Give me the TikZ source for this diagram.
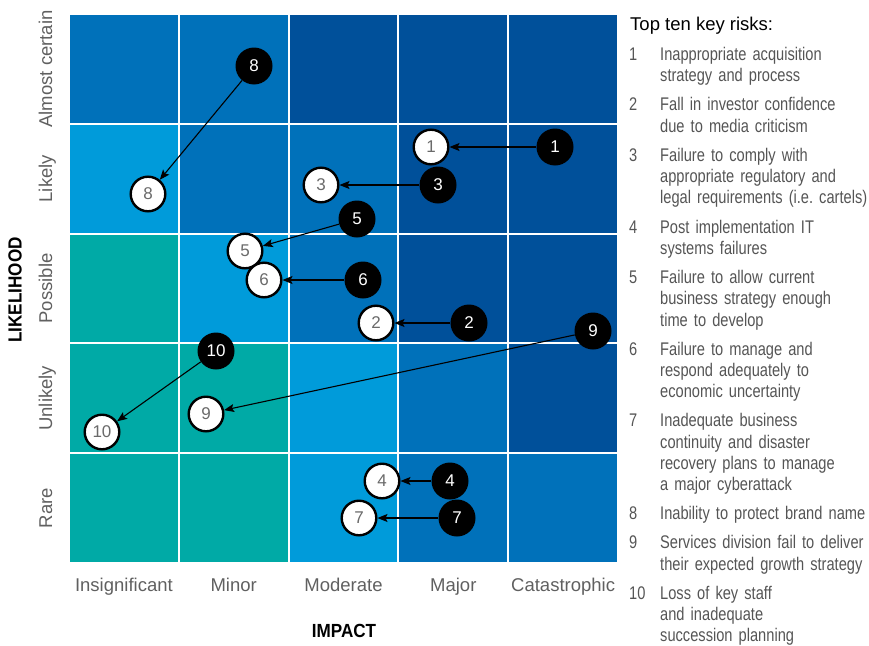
\documentclass[tikz,border=0pt]{standalone}
\usepackage{fontspec}
\setmainfont{Liberation Sans}
\newfontfamily\condfont[FakeStretch=0.8]{Liberation Sans}
\newfontfamily\bcondfont[FakeStretch=0.9]{Liberation Sans}
\usetikzlibrary{arrows.meta}
\definecolor{cteal}{HTML}{00AAA6}
\definecolor{clight}{HTML}{009BDA}
\definecolor{cmid}{HTML}{0071BA}
\definecolor{cdark}{HTML}{00509A}
\definecolor{labgray}{HTML}{606060}
\definecolor{numgray}{HTML}{6A6A6A}
\definecolor{listgray}{HTML}{555555}
\frenchspacing
\begin{document}
\begin{tikzpicture}[x=1pt,y=-1pt,
  wc/.style={circle,draw=black,fill=white,line width=2.4pt,minimum size=34.6pt,inner sep=0pt,font=\fontsize{17}{17}\selectfont,text=numgray},
  bc/.style={circle,fill=black,minimum size=37pt,inner sep=0pt,font=\fontsize{17}{17}\selectfont,text=white},
  arr/.style={line width=1.1pt,-{Stealth[length=10pt,width=8pt,inset=2pt]}},
  axlab/.style={font=\fontsize{18.5}{20}\selectfont,text=labgray,inner sep=0pt,anchor=base},
  ylab/.style={font=\fontsize{18.5}{20}\selectfont,text=labgray,inner sep=0pt,anchor=base,rotate=90},
  axtitle/.style={font=\bcondfont\bfseries\fontsize{19}{20}\selectfont,inner sep=0pt},
  listtxt/.style={font=\condfont\fontsize{18.3}{21.3}\selectfont,text=listgray,inner sep=0pt,anchor=base west,text width=240pt,align=left},
  listnum/.style={font=\condfont\fontsize{18.3}{21.3}\selectfont,text=listgray,inner sep=0pt,anchor=base west}]
\useasboundingbox (0,0) rectangle (869,645);
% grid cells
\foreach \c/\r/\col in {0/0/cmid,1/0/cmid,2/0/cdark,3/0/cdark,4/0/cdark,
  0/1/clight,1/1/cmid,2/1/cmid,3/1/cdark,4/1/cdark,
  0/2/cteal,1/2/clight,2/2/cmid,3/2/cdark,4/2/cdark,
  0/3/cteal,1/3/cteal,2/3/clight,3/3/cmid,4/3/cdark,
  0/4/cteal,1/4/cteal,2/4/clight,3/4/cmid,4/4/cmid}{
  \fill[\col] ({69+109.8*\c+1},{14+109.8*\r+1}) rectangle ({69+109.8*(\c+1)-1},{14+109.8*(\r+1)-1});
}
% axis labels
\node[axlab] (xl1) at (123.9,591) {Insignificant};
\node[axlab] (xl2) at (233.7,591) {Minor};
\node[axlab] (xl3) at (343.5,591) {Moderate};
\node[axlab] (xl4) at (453.3,591) {Major};
\node[axlab] (xl5) at (563.1,591) {Catastrophic};
\node[ylab] (yl1) at (52,68.9) {Almost certain};
\node[ylab] (yl2) at (52,178.7) {Likely};
\node[ylab] (yl3) at (52,288.5) {Possible};
\node[ylab] (yl4) at (52,398.3) {Unlikely};
\node[ylab] (yl5) at (52,508.1) {Rare};
\node[axtitle] (ximp) at (344,631) {IMPACT};
\node[axtitle,rotate=90] (ylik) at (15,290) {LIKELIHOOD};
% circles
\node[wc] (w1) at (431,147) {1};
\node[wc] (w2) at (376,323) {2};
\node[wc] (w3) at (321,185) {3};
\node[wc] (w4) at (382,481) {4};
\node[wc] (w5) at (245,251) {5};
\node[wc] (w6) at (264,280) {6};
\node[wc] (w7) at (359,518) {7};
\node[wc] (w8) at (148,194) {8};
\node[wc] (w9) at (206,414) {9};
\node[wc] (w10) at (102,432) {10};
\node[bc] (b1) at (555,147) {1};
\node[bc] (b2) at (469,323) {2};
\node[bc] (b3) at (438,185) {3};
\node[bc] (b4) at (450,481) {4};
\node[bc] (b5) at (357,219) {5};
\node[bc] (b6) at (363,280) {6};
\node[bc] (b7) at (457,518) {7};
\node[bc] (b8) at (254,66) {8};
\node[bc] (b9) at (593,331) {9};
\node[bc] (b10) at (216,351) {10};
\foreach \i in {1,...,10}{ \draw[arr] (b\i) -- (w\i); }
% list
\node[font=\fontsize{18.5}{20}\selectfont,inner sep=0pt,anchor=base west] (ttl) at (630,30) {Top ten key risks:};
\node[listnum] (n1) at (629,60.5) {1};
\node[listtxt] (t1) at (660,60.5) {Inappropriate acquisition\\strategy and process};
\node[listnum] (n2) at (629,110.9) {2};
\node[listtxt] (t2) at (660,110.9) {Fall in investor confidence\\due to media criticism};
\node[listnum] (n3) at (629,161.3) {3};
\node[listtxt] (t3) at (660,161.3) {Failure to comply with\\appropriate regulatory and\\legal requirements (i.e. cartels)};
\node[listnum] (n4) at (629,233) {4};
\node[listtxt] (t4) at (660,233) {Post implementation IT\\systems failures};
\node[listnum] (n5) at (629,283.4) {5};
\node[listtxt] (t5) at (660,283.4) {Failure to allow current\\business strategy enough\\time to develop};
\node[listnum] (n6) at (629,355.1) {6};
\node[listtxt] (t6) at (660,355.1) {Failure to manage and\\respond adequately to\\economic uncertainty};
\node[listnum] (n7) at (629,426.8) {7};
\node[listtxt] (t7) at (660,426.8) {Inadequate business\\continuity and disaster\\recovery plans to manage\\a major cyberattack};
\node[listnum] (n8) at (629,519.8) {8};
\node[listtxt] (t8) at (660,519.8) {Inability to protect brand name};
\node[listnum] (n9) at (629,548.9) {9};
\node[listtxt] (t9) at (660,548.9) {Services division fail to deliver\\their expected growth strategy};
\node[listnum] (n10) at (629,599.3) {10};
\node[listtxt] (t10) at (660,599.3) {Loss of key staff\\and inadequate\\succession planning};
\end{tikzpicture}
\end{document}
